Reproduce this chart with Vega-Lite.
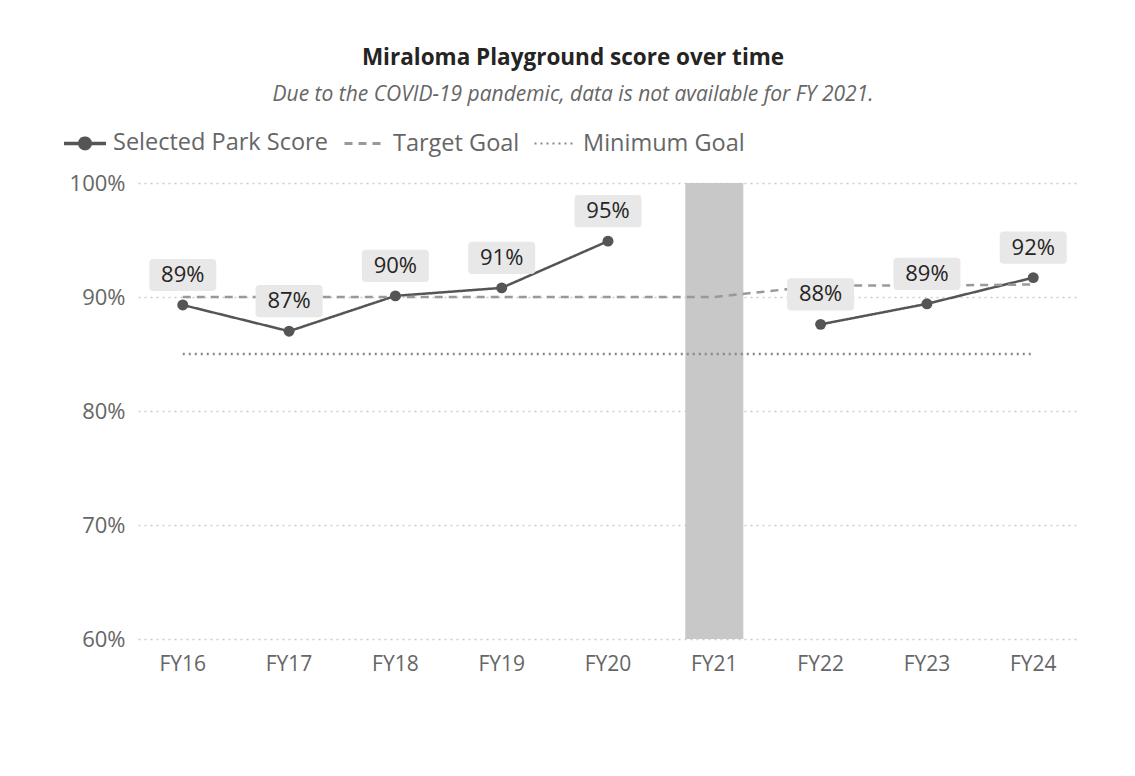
{
  "$schema": "https://vega.github.io/schema/vega-lite/v6.json",
  "width": 940,
  "height": 456,
  "autosize": {"type": "none"},
  "padding": {"left": 138, "top": 183, "right": 57, "bottom": 137},
  "background": "white",
  "config": {"view": {"stroke": null}},
  "title": {
    "text": "Miraloma Playground score over time",
    "subtitle": "Due to the COVID-19 pandemic, data is not available for FY 2021.",
    "anchor": "middle",
    "frame": "group",
    "dx": -35,
    "offset": 15,
    "font": "Open Sans",
    "fontSize": 22.5,
    "fontWeight": "bold",
    "color": "#252423",
    "subtitleFont": "Open Sans",
    "subtitleFontSize": 21,
    "subtitleFontStyle": "italic",
    "subtitleColor": "#666666",
    "subtitlePadding": 15
  },
  "datasets": {
    "lines": [
      {"fy": "FY16", "series": "Selected Park Score", "value": 0.893},
      {"fy": "FY17", "series": "Selected Park Score", "value": 0.870},
      {"fy": "FY18", "series": "Selected Park Score", "value": 0.901},
      {"fy": "FY19", "series": "Selected Park Score", "value": 0.908},
      {"fy": "FY20", "series": "Selected Park Score", "value": 0.949},
      {"fy": "FY21", "series": "Selected Park Score", "value": null},
      {"fy": "FY22", "series": "Selected Park Score", "value": 0.876},
      {"fy": "FY23", "series": "Selected Park Score", "value": 0.894},
      {"fy": "FY24", "series": "Selected Park Score", "value": 0.917},
      {"fy": "FY16", "series": "Target Goal", "value": 0.90},
      {"fy": "FY17", "series": "Target Goal", "value": 0.90},
      {"fy": "FY18", "series": "Target Goal", "value": 0.90},
      {"fy": "FY19", "series": "Target Goal", "value": 0.90},
      {"fy": "FY20", "series": "Target Goal", "value": 0.90},
      {"fy": "FY21", "series": "Target Goal", "value": 0.90},
      {"fy": "FY22", "series": "Target Goal", "value": 0.91},
      {"fy": "FY23", "series": "Target Goal", "value": 0.91},
      {"fy": "FY24", "series": "Target Goal", "value": 0.911},
      {"fy": "FY16", "series": "Minimum Goal", "value": 0.85},
      {"fy": "FY17", "series": "Minimum Goal", "value": 0.85},
      {"fy": "FY18", "series": "Minimum Goal", "value": 0.85},
      {"fy": "FY19", "series": "Minimum Goal", "value": 0.85},
      {"fy": "FY20", "series": "Minimum Goal", "value": 0.85},
      {"fy": "FY21", "series": "Minimum Goal", "value": 0.85},
      {"fy": "FY22", "series": "Minimum Goal", "value": 0.85},
      {"fy": "FY23", "series": "Minimum Goal", "value": 0.85},
      {"fy": "FY24", "series": "Minimum Goal", "value": 0.85}
    ],
    "covid": [
      {"fy": "FY21", "low": 0.6, "high": 1.0}
    ]
  },
  "encoding": {
    "x": {
      "field": "fy",
      "type": "nominal",
      "scale": {
        "type": "band",
        "domain": ["FY16", "FY17", "FY18", "FY19", "FY20", "FY21", "FY22", "FY23", "FY24"],
        "paddingInner": 0.454,
        "paddingOuter": 0.148
      },
      "axis": {
        "title": null,
        "labelAngle": 0,
        "domain": false,
        "ticks": false,
        "labelPadding": 14,
        "labelFont": "Open Sans",
        "labelFontSize": 21,
        "labelColor": "#666666"
      }
    }
  },
  "layer": [
    {
      "data": {"name": "covid"},
      "mark": {"type": "bar", "color": "#c8c8c8"},
      "encoding": {
        "y": {
          "field": "low",
          "type": "quantitative",
          "scale": {"domain": [0.6, 1.0], "nice": false, "zero": false},
          "axis": {
            "title": null,
            "values": [0.6, 0.7, 0.8, 0.9, 1.0],
            "format": ".0%",
            "domain": false,
            "ticks": false,
            "labelPadding": 13,
            "labelFont": "Open Sans",
            "labelFontSize": 22,
            "labelColor": "#666666",
            "grid": true,
            "gridColor": "#cccccc",
            "gridDash": [2, 4],
            "gridWidth": 1.5
          }
        },
        "y2": {"field": "high"}
      }
    },
    {
      "data": {"name": "lines"},
      "mark": {"type": "line", "invalid": "break-paths-filter-domains", "strokeWidth": 2.5},
      "encoding": {
        "y": {"field": "value", "type": "quantitative"},
        "color": {
          "field": "series",
          "type": "nominal",
          "scale": {
            "domain": ["Selected Park Score", "Target Goal", "Minimum Goal"],
            "range": ["#555555", "#999999", "#888888"]
          },
          "legend": {
            "title": null,
            "orient": "none",
            "legendX": -76,
            "legendY": -63,
            "direction": "horizontal",
            "padding": 0,
            "symbolType": "stroke",
            "symbolSize": 1764,
            "symbolStrokeWidth": 2.5,
            "labelFont": "Open Sans",
            "labelFontSize": 23.5,
            "labelColor": "#666666",
            "labelLimit": 400,
            "labelOffset": 5,
            "columnPadding": 10,
            "encode": {
              "symbols": {
                "update": {
                  "shape": {"signal": "datum.value === 'Selected Park Score' ? 'M-1,0H1M-0.25,0A0.25,0.25 0 1,0 0.25,0A0.25,0.25 0 1,0 -0.25,0Z' : 'stroke'"},
                  "fill": {"signal": "datum.value === 'Selected Park Score' ? '#555555' : 'transparent'"},
                  "strokeWidth": {"signal": "datum.value === 'Selected Park Score' ? 3.5 : 2.5"}
                }
              }
            }
          }
        },
        "strokeDash": {
          "field": "series",
          "type": "nominal",
          "scale": {
            "domain": ["Selected Park Score", "Target Goal", "Minimum Goal"],
            "range": [[1, 0], [8, 6], [2, 4]]
          },
          "legend": {
            "title": null,
            "orient": "none",
            "legendX": -76,
            "legendY": -63,
            "direction": "horizontal"
          }
        },
        "strokeWidth": {
          "field": "series",
          "type": "nominal",
          "scale": {
            "domain": ["Selected Park Score", "Target Goal", "Minimum Goal"],
            "range": [3.5, 2.2, 2.2]
          },
          "legend": null
        }
      }
    },
    {
      "data": {"name": "lines"},
      "transform": [{"filter": "datum.series === 'Selected Park Score' && datum.value != null"}],
      "mark": {"type": "point", "filled": true, "color": "#555555", "size": 120, "opacity": 1},
      "encoding": {
        "y": {"field": "value", "type": "quantitative"}
      }
    },
    {
      "data": {"name": "lines"},
      "transform": [{"filter": "datum.series === 'Selected Park Score' && datum.value != null"}],
      "mark": {
        "type": "point",
        "filled": true,
        "color": "#e8e8e8",
        "opacity": 1,
        "size": 4489,
        "yOffset": -30,
        "shape": "M-0.88,-0.48H0.88Q1,-0.48 1,-0.36V0.36Q1,0.48 0.88,0.48H-0.88Q-1,0.48 -1,0.36V-0.36Q-1,-0.48 -0.88,-0.48Z"
      },
      "encoding": {
        "y": {"field": "value", "type": "quantitative"}
      }
    },
    {
      "data": {"name": "lines"},
      "transform": [{"filter": "datum.series === 'Selected Park Score' && datum.value != null"}],
      "mark": {
        "type": "text",
        "yOffset": -30,
        "baseline": "middle",
        "align": "center",
        "font": "Open Sans",
        "fontSize": 22,
        "color": "#252423"
      },
      "encoding": {
        "y": {"field": "value", "type": "quantitative"},
        "text": {"field": "value", "type": "quantitative", "format": ".0%"}
      }
    }
  ]
}
